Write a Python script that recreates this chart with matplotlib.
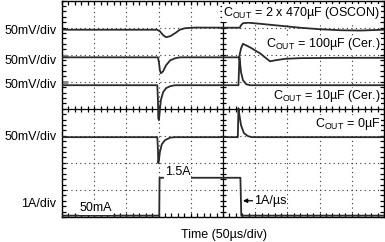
import matplotlib
matplotlib.use("Agg")
import matplotlib.pyplot as plt
import numpy as np

plt.rcParams['font.family'] = ['Liberation Sans', 'DejaVu Sans']
plt.rcParams['mathtext.fontset'] = 'custom'
plt.rcParams['mathtext.rm'] = 'Liberation Sans'
plt.rcParams['mathtext.it'] = 'Liberation Sans'

# ---- data (time in µs, voltage deviation in mV, current in A) ----
t_oscon = [0, 147.5, 152, 157, 161.5, 168, 175.5, 183, 191, 206.5, 276, 278, 281, 289, 307.5, 338.5, 369.5, 400.5, 431.5, 463, 500]
v_oscon = [0, 0, -2.8, -10, -13.8, -12, -6.5, 0, 2.8, 4, 3.7, 8.3, 12, 13, 11, 7.4, 3.7, 0.9, -0.9, -1.5, 0]

t_c100 = [0, 149, 150.5, 152, 153.5, 157, 161.5, 168, 175.5, 183, 275, 278, 281, 292, 307.5, 323, 331, 346, 369.5, 431.5, 500]
v_c100 = [0, 0, -9.2, -24, -29.5, -25.8, -14.8, -5.5, -1.8, 0, 0, 16.6, 25, 18.5, 7.4, -7.4, -5.5, -2.8, -1.5, -0.9, -0.9]

t_c10 = [0, 148, 149, 149.5, 150.5, 152, 153.5, 157, 161.5, 168, 175.5, 274, 275.5, 276.5, 278, 281, 286, 292, 500]
v_c10 = [0, 0, -27.7, -61, -64.6, -46, -27.7, -13, -5.5, -1.8, 0, 0, 51.7, 40.6, 24, 9.2, 1.8, 0, 0]

t_c0 = [0, 148, 149, 149.5, 150.5, 152, 155, 160, 168, 175.5, 273, 274, 275.5, 278, 282.5, 289, 295, 500]
v_c0 = [0, 0, -24, -48, -42.4, -27.7, -13, -5.5, -0.9, 0, 0, 53.5, 40.6, 22, 7.4, 1.8, 0, 0]

t_load = [0, 151, 151.5, 277, 278.4, 500]
i_load = [0.05, 0.05, 1.45, 1.45, 0.05, 0.05]

# trace baselines (divisions) and scales
offsets = [6.92, 5.90, 4.87, 2.95]
mv_per_div = 50.0
a_per_div = 1.0

scale_labels = ["50mV/div", "50mV/div", "50mV/div", "50mV/div", "1A/div"]
scale_label_y = [6.86, 5.76, 4.87, 2.95, 0.48]
cap_labels = [r"C$_{\rm OUT}$ = 2 x 470µF (OSCON)", r"C$_{\rm OUT}$ = 100µF (Cer.)",
              r"C$_{\rm OUT}$ = 10µF (Cer.)", r"C$_{\rm OUT}$ = 0µF"]
cap_label_y = [7.53, 6.38, 4.46, 3.43]

W, H = 385, 242
fig = plt.figure(figsize=(W / 100, H / 100), dpi=100)
ax = fig.add_axes([62 / W, 25 / H, 322 / W, 216.5 / H])
ax.set_xlim(0, 500)
ax.set_ylim(0, 8)

gc = '#333333'
# grid
for x in np.arange(50, 500, 50):
    if x == 250:
        ax.axvline(x, color='black', lw=0.9, zorder=1)
    else:
        ax.axvline(x, color=gc, lw=0.8, ls=(0, (1, 3)), zorder=1)
for y in np.arange(1, 8, 1):
    if y == 4:
        ax.axhline(y, color='black', lw=0.9, zorder=1)
    else:
        ax.axhline(y, color=gc, lw=0.8, ls=(0, (1, 3)), zorder=1)

# center-line cross ticks
xt = np.arange(10, 500, 10)
ax.plot(xt, np.full_like(xt, 4.0, dtype=float), ls='none', marker='|', ms=4.5, mew=0.9, color='black', zorder=1)
yt = np.arange(0.2, 8, 0.2)
ax.plot(np.full_like(yt, 250.0), yt, ls='none', marker='_', ms=4.5, mew=0.9, color='black', zorder=1)

# edge ticks
ax.set_xticks(np.arange(0, 501, 10))
ax.set_yticks(np.arange(0, 8.01, 0.2))
ax.tick_params(which='both', direction='in', top=True, right=True, length=3, width=0.9,
               labelbottom=False, labelleft=False)
for s in ax.spines.values():
    s.set_linewidth(1.0)
    s.set_color('black')

# traces
tc = '#2a2a2a'
for (tt, vv), off in zip([(t_oscon, v_oscon), (t_c100, v_c100), (t_c10, v_c10), (t_c0, v_c0)], offsets):
    ax.plot(tt, off + np.array(vv) / mv_per_div, color=tc, lw=1.3, zorder=3, solid_joinstyle='round')
ax.plot(t_load, np.array(i_load) / a_per_div, color=tc, lw=1.3, zorder=3)

# ground markers
for y in [5.94, 4.98]:
    ax.plot([0, 10], [y, y], color='#888888', lw=2.2, zorder=2, solid_capstyle='butt')

fs = 9
for lab, y in zip(scale_labels, scale_label_y):
    ax.text(-9, y, lab, ha='right', va='center', fontsize=fs, clip_on=False)

for lab, y in zip(cap_labels, cap_label_y):
    ax.text(494, y, lab, ha='right', va='center', fontsize=fs, zorder=4,
            bbox=dict(facecolor='white', edgecolor='none', pad=0.5))

ax.text(160, 1.66, "1.5A", ha='left', va='center', fontsize=fs, zorder=4,
        bbox=dict(facecolor='white', edgecolor='none', pad=0.5))
ax.text(27, 0.33, "50mA", ha='left', va='center', fontsize=fs, zorder=4,
        bbox=dict(facecolor='white', edgecolor='none', pad=0.5))
ax.annotate("1A/µs", xy=(281, 0.6), xytext=(298, 0.6), ha='left', va='center', fontsize=fs, zorder=4,
            bbox=dict(facecolor='white', edgecolor='none', pad=0.5),
            arrowprops=dict(arrowstyle='-|>', color='black', lw=0.9, mutation_scale=6, shrinkA=0, shrinkB=0))

fig.text(224 / W, 1 - 235 / H, "Time (50µs/div)", ha='center', va='center', fontsize=fs)

fig.savefig("out.png", dpi=100)
